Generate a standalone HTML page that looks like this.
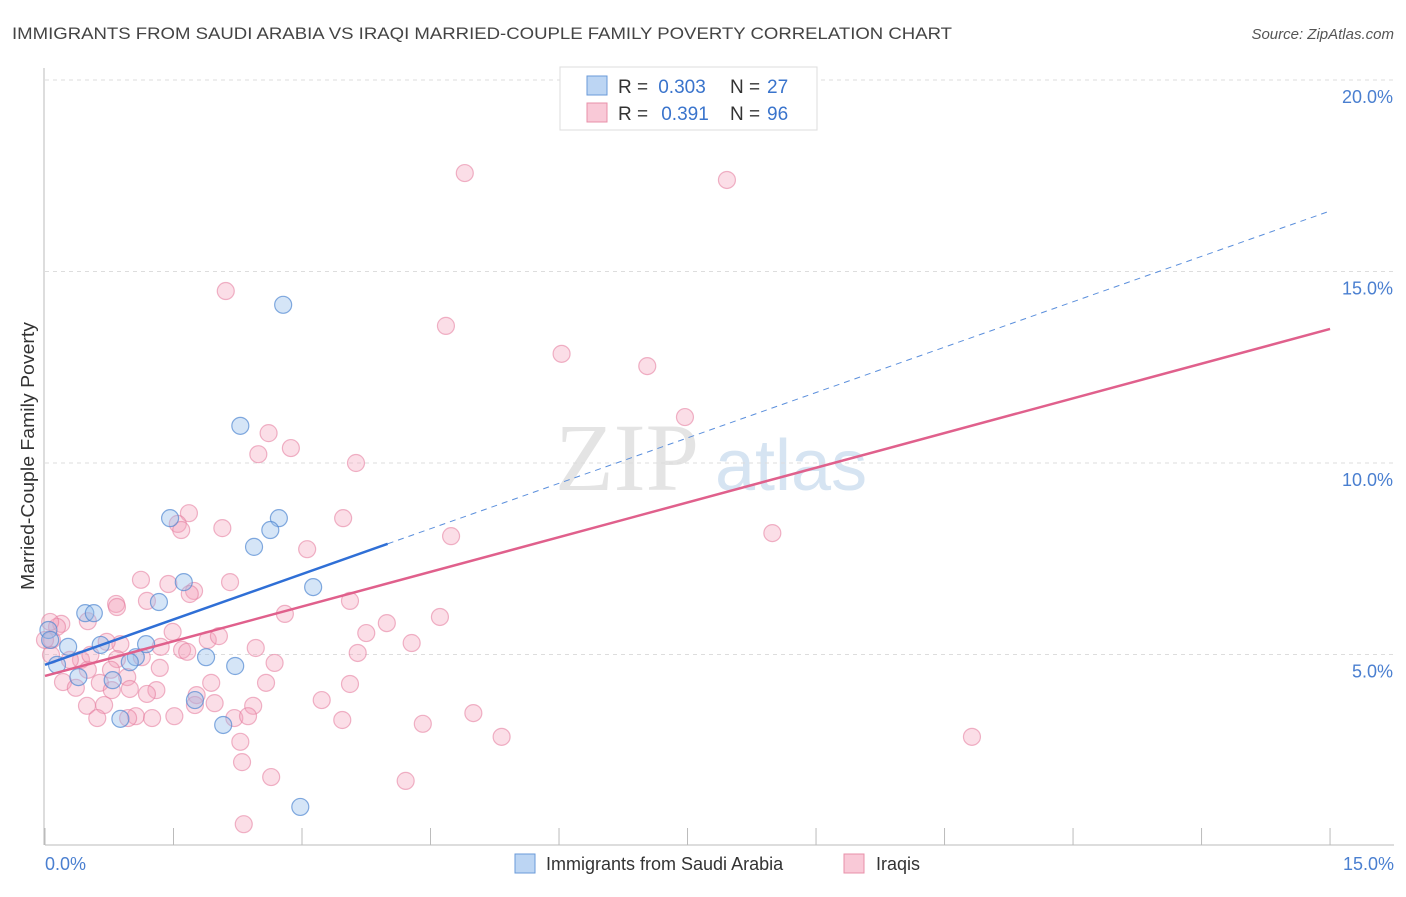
<!DOCTYPE html>
<html><head><meta charset="utf-8"><style>
body{margin:0;background:#fff;font-family:"Liberation Sans",sans-serif}
</style></head><body>
<svg id="chart" width="1406" height="892" xmlns="http://www.w3.org/2000/svg" font-family="Liberation Sans, sans-serif">
<text x="12" y="39" font-size="17" fill="#444" textLength="940" lengthAdjust="spacingAndGlyphs">IMMIGRANTS FROM SAUDI ARABIA VS IRAQI MARRIED-COUPLE FAMILY POVERTY CORRELATION CHART</text>
<text x="1394" y="39" font-size="15" fill="#555" text-anchor="end" font-style="italic">Source: ZipAtlas.com</text>
<text x="555" y="490" font-size="96" fill="#e4e4e4" font-family="Liberation Serif, serif">ZIP</text>
<text x="715" y="490" font-size="72" fill="#d6e4f2">atlas</text>
<g id="grid"></g>
<line x1="45" y1="845" x2="1394" y2="845" stroke="#bbb"/>
<line x1="44" y1="68" x2="44" y2="845" stroke="#bbb"/>
<text transform="translate(34,456) rotate(-90)" font-size="18" fill="#333" text-anchor="middle" textLength="268" lengthAdjust="spacingAndGlyphs">Married-Couple Family Poverty</text>
<text x="45" y="870" font-size="18" fill="#4a7fd0">0.0%</text>
<text x="1394" y="870" font-size="18" fill="#4a7fd0" text-anchor="end">15.0%</text>
<g id="points"></g>
<g id="lines"></g>
<g>
<rect x="560" y="67" width="257" height="63" fill="#fff" stroke="#ddd"/>
<rect x="587" y="76" width="20" height="19" fill="#bcd5f3" stroke="#6a9ad8"/>
<rect x="587" y="103" width="20" height="19" fill="#f9c9d7" stroke="#e890aa"/>
<text x="618" y="93" font-size="19" fill="#333">R =</text>
<text x="682" y="93" font-size="19" fill="#3a74cc" text-anchor="middle">0.303</text>
<text x="730" y="93" font-size="19" fill="#333">N =</text>
<text x="767" y="93" font-size="19" fill="#3a74cc">27</text>
<text x="618" y="120" font-size="19" fill="#333">R =</text>
<text x="685" y="120" font-size="19" fill="#3a74cc" text-anchor="middle">0.391</text>
<text x="730" y="120" font-size="19" fill="#333">N =</text>
<text x="767" y="120" font-size="19" fill="#3a74cc">96</text>
</g>
<g>
<rect x="515" y="854" width="20" height="19" fill="#bcd5f3" stroke="#6a9ad8"/>
<text x="546" y="870" font-size="18" fill="#333">Immigrants from Saudi Arabia</text>
<rect x="844" y="854" width="20" height="19" fill="#f9c9d7" stroke="#e890aa"/>
<text x="876" y="870" font-size="18" fill="#333">Iraqis</text>
</g>
</svg>
<script>
const yTicks=[5,10,15,20];
const xTicks=[0,1.5,3,4.5,6,7.5,9,10.5,12,13.5,15];
const blueX=[2.78,2.28,1.46,2.73,2.63,2.44,1.62,3.13,1.33,0.47,0.57,0.27,1.18,0.65,1.06,1.88,0.99,0.04,0.06,0.14,0.39,0.79,1.75,2.22,0.88,2.08,2.98];
const blueY=[14.13,10.97,8.56,8.56,8.25,7.81,6.89,6.76,6.37,6.08,6.08,5.20,5.27,5.25,4.93,4.93,4.80,5.64,5.38,4.73,4.41,4.33,3.81,4.70,3.32,3.16,1.02];
const pinkX=[4.90,7.96,2.11,4.68,6.03,7.03,7.47,2.61,2.87,2.49,3.63,1.68,3.48,1.55,1.59,2.07,4.74,8.49,3.06,1.12,2.16,1.44,1.74,1.69,0.83,0.84,1.19,2.80,3.56,4.61,0.19,0.14,3.99,3.75,1.49,0.50,0.08,1.90,2.03,0.88,0.72,4.28,1.35,2.46,1.60,1.66,3.65,0.07,0.42,0.84,1.13,2.68,0.50,0.29,0.96,1.94,2.58,3.56,0.21,0.64,0.36,0.78,0.99,1.77,1.30,1.19,3.23,1.98,2.43,0.69,0.49,1.51,1.06,1.25,0.61,0.97,2.21,2.37,3.47,5.00,4.41,5.33,10.82,2.28,2.30,2.64,4.21,2.32,0.06,0.00,0.53,0.77,1.34,1.75];
const pinkY=[17.57,17.39,14.49,13.58,12.85,12.53,11.20,10.78,10.39,10.23,10.00,8.69,8.56,8.41,8.25,8.30,8.09,8.17,7.75,6.95,6.89,6.84,6.66,6.58,6.32,6.24,6.40,6.06,6.40,5.98,5.80,5.72,5.82,5.56,5.59,5.87,5.38,5.38,5.48,5.27,5.33,5.30,5.20,5.17,5.12,5.07,5.04,4.99,4.86,4.88,4.93,4.78,4.60,4.86,4.41,4.26,4.26,4.23,4.28,4.26,4.13,4.07,4.10,3.94,4.07,3.97,3.81,3.73,3.66,3.68,3.66,3.39,3.39,3.34,3.34,3.34,3.34,3.39,3.29,3.47,3.19,2.85,2.85,2.72,2.19,1.80,1.70,0.57,5.85,5.38,4.99,4.60,4.65,3.68];
const blueTrend=[4.73,16.58]; const blueSolidEnd=4.0;
const pinkTrend=[4.44,13.50];
const NS="http://www.w3.org/2000/svg";
const sx=v=>45+v*85.67, sy=v=>846-v*38.3;
function mk(t,a,p){const e=document.createElementNS(NS,t);for(const k in a)e.setAttribute(k,a[k]);p.appendChild(e);return e;}
const grid=document.getElementById('grid');
yTicks.forEach(t=>{
 const l=mk('line',{x1:45,x2:1394,y1:sy(t),y2:sy(t),stroke:'#ddd','stroke-dasharray':'4,4'},grid);
 
 
 const tx=mk('text',{x:1393,y:sy(t)+23,'font-size':18,fill:'#4a7fd0','text-anchor':'end'},grid);
 tx.textContent=t.toFixed(1)+'%';
 
 
});
xTicks.forEach(t=>{
 const l=mk('line',{x1:sx(t),x2:sx(t),y1:828,y2:845,stroke:'#bbb'},grid);
 
 
});
const pts=document.getElementById('points');
pinkX.forEach((x,i)=>{
 const c=mk('circle',{cx:sx(x),cy:sy(pinkY[i]),r:8.5,fill:'rgba(244,160,185,0.35)',stroke:'rgba(228,120,155,0.55)','stroke-width':1.2},pts);
 
 
});
blueX.forEach((x,i)=>{
 const c=mk('circle',{cx:sx(x),cy:sy(blueY[i]),r:8.5,fill:'rgba(150,190,235,0.4)',stroke:'rgba(80,135,210,0.7)','stroke-width':1.2},pts);
 
 
});
const ln=document.getElementById('lines');
const bAt=x=>blueTrend[0]+(blueTrend[1]-blueTrend[0])*x/15;
let a=mk('line',{x1:sx(0),y1:sy(bAt(0)),x2:sx(blueSolidEnd),y2:sy(bAt(blueSolidEnd)),stroke:'#2f6fd6','stroke-width':2.5},ln);


a=mk('line',{x1:sx(blueSolidEnd),y1:sy(bAt(blueSolidEnd)),x2:sx(15),y2:sy(bAt(15)),stroke:'#5b8fdc','stroke-width':1,'stroke-dasharray':'6,5'},ln);


a=mk('line',{x1:sx(0),y1:sy(pinkTrend[0]),x2:sx(15),y2:sy(pinkTrend[1]),stroke:'#e0608c','stroke-width':2.5},ln);


</script>
</body></html>
